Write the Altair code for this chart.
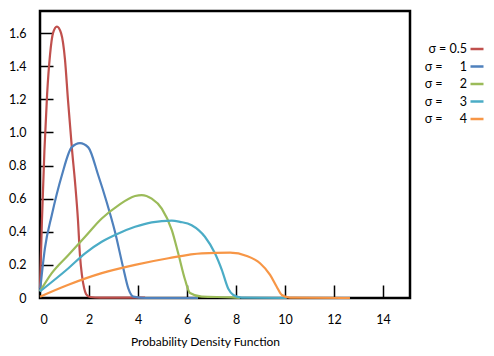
import altair as alt
import pandas as pd

# ---- data ----
labels = ["σ = 0.5", "σ =\u2007\u2008\u20071", "σ =\u2007\u2008\u20072",
          "σ =\u2007\u2008\u20073", "σ =\u2007\u2008\u20074"]
colors = ["#C0504D", "#4F81BD", "#9BBB59", "#4BACC6", "#F79646"]

x_s05 = [0, 0.08, 0.18, 0.29, 0.41, 0.53, 0.69, 0.86, 1.02, 1.14, 1.31, 1.43, 1.55, 1.63, 1.71, 1.80, 1.88, 2.04, 2.45, 4.29]
y_s05 = [0.06, 0.47, 0.89, 1.23, 1.47, 1.60, 1.64, 1.60, 1.44, 1.20, 0.89, 0.70, 0.47, 0.26, 0.14, 0.06, 0.024, 0.006, 0.002, 0.002]

x_s1 = [0, 0.20, 0.48, 0.89, 1.29, 1.63, 1.97, 2.38, 2.72, 3.06, 3.40, 3.60, 3.81, 4.29, 6.45]
y_s1 = [0.04, 0.30, 0.50, 0.74, 0.91, 0.936, 0.91, 0.74, 0.58, 0.40, 0.18, 0.06, 0.008, 0.0, 0.0]

x_s2 = [0, 0.48, 1.16, 1.84, 2.52, 3.20, 3.88, 4.15, 4.56, 4.97, 5.38, 5.64, 5.92, 6.12, 6.60, 7.82, 8.16]
y_s2 = [0.04, 0.15, 0.26, 0.37, 0.48, 0.56, 0.616, 0.622, 0.60, 0.54, 0.41, 0.27, 0.11, 0.03, 0.008, 0.004, 0.0]

x_s3 = [0, 1.16, 1.84, 2.52, 3.20, 3.88, 4.56, 5.38, 5.71, 6.19, 6.73, 7.14, 7.42, 7.69, 7.89, 8.23, 10.07]
y_s3 = [0.04, 0.18, 0.27, 0.34, 0.39, 0.43, 0.457, 0.467, 0.46, 0.44, 0.37, 0.27, 0.17, 0.054, 0.018, 0.002, 0.0]

x_s4 = [0, 1.16, 2.52, 3.88, 5.24, 6.60, 7.76, 8.44, 8.98, 9.39, 9.66, 9.87, 10.20, 12.65]
y_s4 = [0.008, 0.08, 0.15, 0.20, 0.24, 0.27, 0.274, 0.254, 0.21, 0.14, 0.068, 0.018, 0.002, 0.0]

x_ticks = [0, 2, 4, 6, 8, 10, 12, 14]
y_ticks = [0, 0.2, 0.4, 0.6, 0.8, 1.0, 1.2, 1.4, 1.6]

rows = []
for lab, xs, ys in zip(labels, [x_s05, x_s1, x_s2, x_s3, x_s4], [y_s05, y_s1, y_s2, y_s3, y_s4]):
    for xv, yv in zip(xs, ys):
        rows.append({"series": lab, "x": xv, "y": yv})
df = pd.DataFrame(rows)

FONT = "Lato"
xscale = alt.Scale(domain=[0, 15.1], nice=False, zero=False)
yscale = alt.Scale(domain=[0, 1.734], nice=False, zero=False)
color = alt.Color(
    "series:N",
    scale=alt.Scale(domain=labels, range=colors),
    legend=alt.Legend(
        title=None, orient="none", legendX=429, legendY=30,
        symbolType="stroke", symbolSize=169, symbolStrokeWidth=2.5,
        labelAlign="right", labelOffset={"expr": "-18"}, padding=0, rowPadding=2.5,
        labelFontSize=12.5, labelFont=FONT, labelColor="#000000",
    ),
)

lines = alt.Chart(df).mark_line(interpolate="monotone", strokeWidth=2.2).encode(
    x=alt.X("x:Q", scale=xscale, axis=alt.Axis(
        orient="bottom", values=x_ticks, tickSize=0, domain=False, grid=False, labelPadding=15,
        labelFontSize=12.5, labelFont=FONT, labelColor="#000000",
        title="Probability Density Function", titleFont=FONT, titleFontSize=12,
        titleFontWeight="normal", titleColor="#000000", titleX=165, titleY=43,
        titleBaseline="middle", titleAnchor="start", titleAlign="center")),
    y=alt.Y("y:Q", scale=yscale, axis=alt.Axis(
        orient="left", values=y_ticks, tickSize=0, domain=False, grid=False, labelPadding=14,
        labelFontSize=12.5, labelFont=FONT, labelColor="#000000",
        labelExpr="datum.value == 0 ? '0' : format(datum.value, '.1f')",
        title=None)),
    color=color,
)

ticks = alt.Chart(df).mark_line(strokeOpacity=0).encode(
    x=alt.X("x:Q", scale=xscale, axis=alt.Axis(
        orient="bottom", offset=-13, values=x_ticks[1:], tickSize=13, tickColor="#000000",
        tickWidth=1.5, labels=False, domain=False, grid=False), title=None),
    y=alt.Y("y:Q", scale=yscale, axis=alt.Axis(
        orient="left", offset=-13, values=y_ticks[1:], tickSize=13, tickColor="#000000",
        tickWidth=1.5, labels=False, domain=False, grid=False), title=None),
    detail="series:N",
)

chart = alt.layer(ticks, lines).resolve_axis(x="independent", y="independent").properties(
    width=370, height=287,
    autosize=alt.AutoSizeParams(type="none"),
    padding={"left": 40, "top": 11, "right": 84, "bottom": 58},
    background="white",
).configure_view(stroke="#000000", strokeWidth=2.5)

chart.save("out.html", embed_options={"renderer": "svg", "actions": False})
